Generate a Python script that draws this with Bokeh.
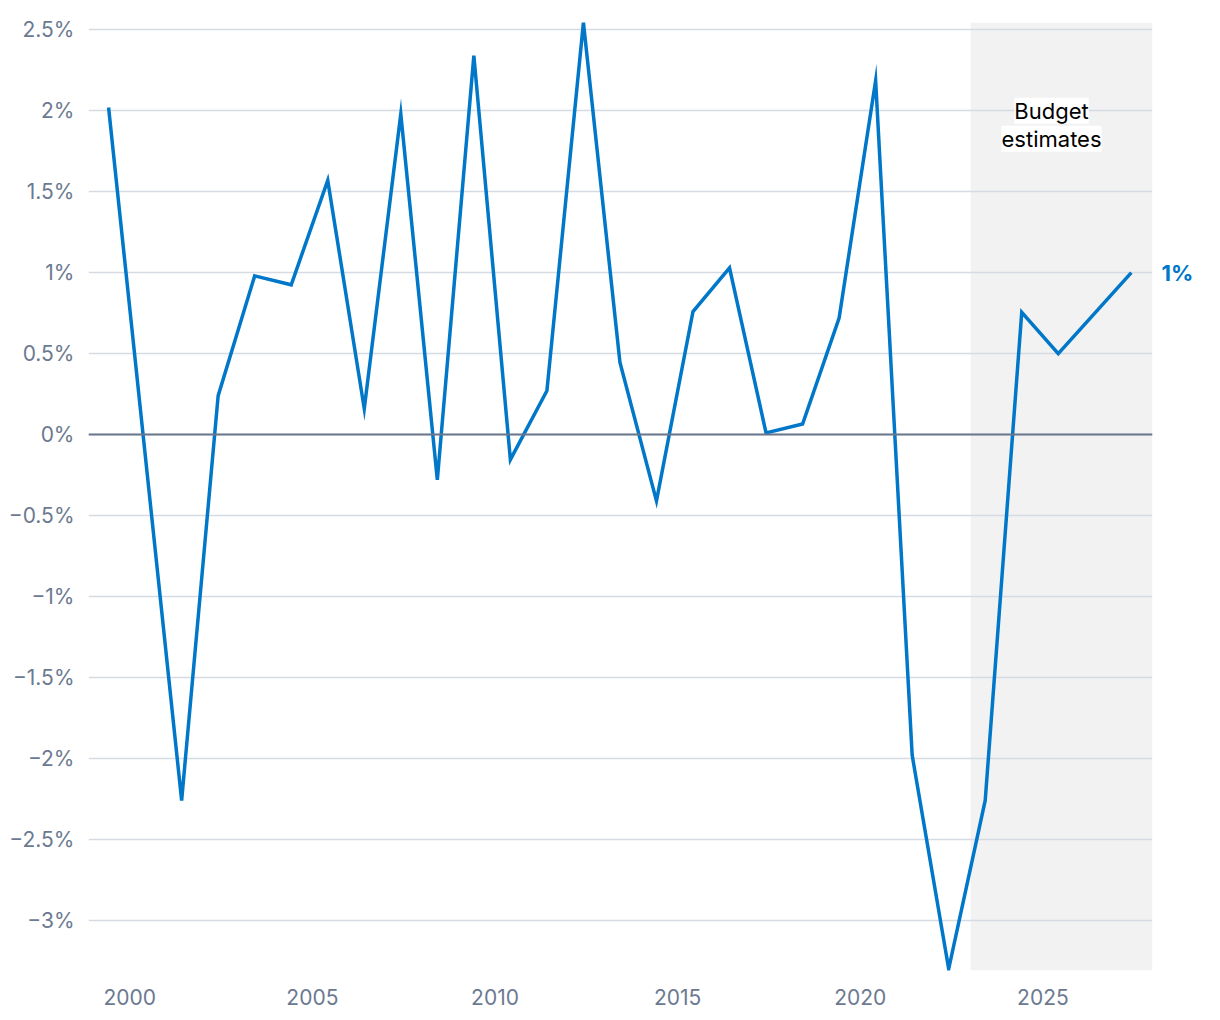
from bokeh.plotting import figure
from bokeh.models import Range1d, FixedTicker, Span, BoxAnnotation, Label, ColumnDataSource, LinearAxis
from bokeh.embed import file_html
from bokeh.resources import INLINE

# Data (fiscal-year points, placed mid-year as in the reference)
years = [1999.42, 2001.42, 2002.42, 2003.42, 2004.42, 2005.42, 2006.42, 2007.42,
         2008.42, 2009.42, 2010.42, 2011.42, 2012.42, 2013.42, 2014.42, 2015.42,
         2016.42, 2017.42, 2018.42, 2019.42, 2020.42, 2021.42, 2022.42, 2023.42,
         2024.42, 2025.42, 2027.42]
values = [2.02, -2.26, 0.24, 0.98, 0.925, 1.57, 0.16, 1.98,
          -0.28, 2.34, -0.155, 0.27, 2.545, 0.445, -0.41, 0.76,
          1.03, 0.01, 0.065, 0.72, 2.185, -1.98, -3.30, -2.26,
          0.755, 0.50, 1.00]

estimate_start = 2023.02
x_ticks = [2000, 2005, 2010, 2015, 2020, 2025]
y_ticks = [-3, -2.5, -2, -1.5, -1, -0.5, 0, 0.5, 1, 1.5, 2, 2.5]
y_labels = ["\u22123%", "\u22122.5%", "\u22122%", "\u22121.5%", "\u22121%", "\u22120.5%",
            "0%", "0.5%", "1%", "1.5%", "2%", "2.5%"]
end_label = "1%"
band_label = ["Budget", "estimates"]

FONT = "Inter"
LINE_COLOR = "#0077c8"
TICK_COLOR = "#6b7a90"

p = figure(width=1212, height=1014, output_backend="svg", toolbar_location=None,
           x_range=Range1d(1998.87, 2028.0), y_range=Range1d(-3.31, 2.545),
           min_border_left=88, min_border_right=60, min_border_top=22, min_border_bottom=44)
p.outline_line_color = None
p.background_fill_color = "white"
p.border_fill_color = "white"

# shaded estimates region
band = BoxAnnotation(left=estimate_start, right=2028.0, fill_color="#f2f2f3", fill_alpha=1.0,
                     line_color=None, level="image")
p.add_layout(band)

# grid
p.xgrid.grid_line_color = None
p.ygrid.grid_line_color = "#d5dae3"
p.ygrid.grid_line_width = 1.5
p.ygrid.ticker = FixedTicker(ticks=y_ticks)

# axes
p.xaxis.ticker = FixedTicker(ticks=x_ticks)
p.yaxis.ticker = FixedTicker(ticks=y_ticks)
p.yaxis.major_label_overrides = {t: l for t, l in zip(y_ticks, y_labels)}
for ax in (p.xaxis[0], p.yaxis[0]):
    ax.axis_line_color = None
    ax.major_tick_line_color = None
    ax.minor_tick_line_color = None
    ax.major_label_text_font = FONT
    ax.major_label_text_font_size = "21px"
    ax.major_label_text_color = TICK_COLOR
p.yaxis.major_label_standoff = 8
p.xaxis.major_label_standoff = 12

# end-value label as a right-side axis label
end_axis = LinearAxis(ticker=FixedTicker(ticks=[values[-1]]),
                      major_label_overrides={values[-1]: end_label})
end_axis.axis_line_color = None
end_axis.major_tick_line_color = None
end_axis.minor_tick_line_color = None
end_axis.major_label_standoff = 3
end_axis.major_label_text_font = FONT
end_axis.major_label_text_font_size = "22px"
end_axis.major_label_text_font_style = "bold"
end_axis.major_label_text_color = LINE_COLOR
p.add_layout(end_axis, "right")

zero = Span(location=0, dimension="width", line_color="#6b778c", line_width=2)
p.add_layout(zero)

src = ColumnDataSource(dict(x=years, y=values))
p.line("x", "y", source=src, line_color=LINE_COLOR, line_width=3.5, line_join="miter")

band_center = (estimate_start + 2028.0) / 2
for i, txt in enumerate(band_label):
    p.add_layout(Label(x=band_center, y=2.0, y_units="data", text=txt,
                       x_offset=-10, y_offset=-(i * 28), text_align="center",
                       text_baseline="middle",
                       text_font=FONT, text_font_size="22px", text_color="black",
                       background_fill_color="white", background_fill_alpha=1.0))

open("out.html", "w").write(file_html(p, INLINE))
